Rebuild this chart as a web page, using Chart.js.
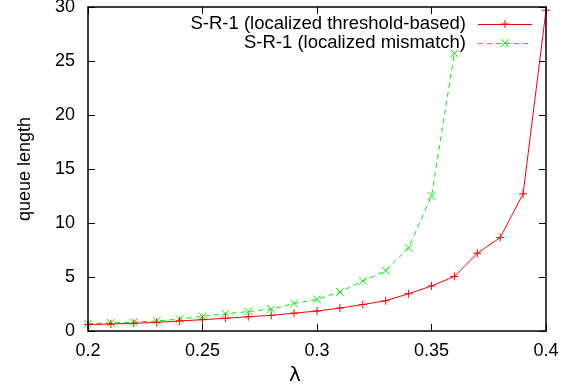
<!DOCTYPE html>
<html>
<head>
<meta charset="utf-8">
<script src="https://cdn.jsdelivr.net/npm/chart.js@4.4.0/dist/chart.umd.min.js"></script>
<style>
  html, body { margin: 0; padding: 0; background: #fff; }
  #wrap { width: 578px; height: 390px; }
</style>
</head>
<body>
<div id="wrap"><canvas id="queueChart" width="578" height="390"></canvas></div>
<script>
// arrival rates (lambda)
const lambdas = [0.2, 0.21, 0.22, 0.23, 0.24, 0.25, 0.26, 0.27, 0.28, 0.29, 0.3,
  0.31, 0.32, 0.33, 0.34, 0.35, 0.36, 0.37, 0.38, 0.39, 0.4];

// queue length
const thresholdQueue = [0.6, 0.65, 0.72, 0.8, 0.93, 1.05, 1.18, 1.32, 1.45, 1.65, 1.85,
  2.12, 2.45, 2.8, 3.45, 4.17, 5.05, 7.2, 8.65, 12.7, 29.7];
const mismatchQueue = [0.68, 0.75, 0.82, 0.93, 1.1, 1.35, 1.6, 1.8, 2.02, 2.55, 2.92,
  3.62, 4.63, 5.58, 7.7, 12.5, 25.7];

const seriesNames = ['S-R-1 (localized threshold-based)', 'S-R-1 (localized mismatch)'];
const xTicks = [0.2, 0.25, 0.3, 0.35, 0.4];
const yTicks = [0, 5, 10, 15, 20, 25, 30];

const FONT = 'Liberation Sans, Arial, sans-serif';

function toPoints(ys) {
  return ys.map((y, i) => ({ x: lambdas[i], y: y }));
}

// box + inward ticks on all four sides, gnuplot style
const framePlugin = {
  id: 'frame',
  afterDatasetsDraw(chart) {
    const { ctx, chartArea: a, scales } = chart;
    const len = 7;
    ctx.save();
    ctx.strokeStyle = '#000';
    ctx.lineWidth = 1;
    ctx.beginPath();
    xTicks.forEach(v => {
      const px = Math.round(scales.x.getPixelForValue(v)) + 0.5;
      ctx.moveTo(px, a.bottom); ctx.lineTo(px, a.bottom - len);
      ctx.moveTo(px, a.top); ctx.lineTo(px, a.top + len);
    });
    yTicks.forEach(v => {
      const py = Math.round(scales.y.getPixelForValue(v)) + 0.5;
      ctx.moveTo(a.left, py); ctx.lineTo(a.left + len, py);
      ctx.moveTo(a.right, py); ctx.lineTo(a.right - len, py);
    });
    ctx.stroke();
    ctx.lineWidth = 1.5;
    ctx.strokeRect(a.left, a.top, a.right - a.left, a.bottom - a.top);

    // x axis title
    ctx.fillStyle = '#000';
    ctx.font = '20px "DejaVu Sans", sans-serif';
    ctx.textAlign = 'center';
    ctx.textBaseline = 'middle';
    ctx.fillText('\u03bb', (a.left + a.right) / 2 - 22, 376);
    ctx.restore();
  }
};

// key in the top right, text left of the sample
const keyPlugin = {
  id: 'key',
  afterDatasetsDraw(chart) {
    const { ctx } = chart;
    const rows = [24, 43];
    ctx.save();
    chart.data.datasets.forEach((ds, i) => {
      const y = rows[i];
      ctx.fillStyle = '#000';
      ctx.font = '18.5px ' + FONT;
      ctx.textAlign = 'right';
      ctx.textBaseline = 'middle';
      ctx.fillText(seriesNames[i], 466, y);
      ctx.strokeStyle = ds.borderColor;
      ctx.lineWidth = 1;
      ctx.setLineDash(ds.borderDash || []);
      ctx.beginPath();
      ctx.moveTo(478, y + 0.5);
      ctx.lineTo(532, y + 0.5);
      ctx.stroke();
      ctx.setLineDash([]);
      Chart.helpers.drawPoint(ctx, {
        pointStyle: ds.pointStyle, radius: ds.pointRadius, rotation: 0, borderWidth: 1
      }, 505, y);
    });
    ctx.restore();
  }
};

new Chart(document.getElementById('queueChart'), {
  type: 'line',
  data: {
    datasets: [
      {
        label: seriesNames[0],
        data: toPoints(thresholdQueue),
        borderColor: '#ff0000',
        backgroundColor: '#ff0000',
        borderWidth: 1,
        pointStyle: 'cross',
        pointRadius: 4,
        pointBorderWidth: 1,
        pointBorderColor: '#ff0000',
        tension: 0
      },
      {
        label: seriesNames[1],
        data: toPoints(mismatchQueue),
        borderColor: '#00ee00',
        backgroundColor: '#00ee00',
        borderWidth: 1,
        borderDash: [5, 4],
        pointStyle: 'crossRot',
        pointRadius: 5.5,
        pointBorderWidth: 1,
        pointBorderColor: '#00ee00',
        tension: 0
      }
    ]
  },
  options: {
    responsive: false,
    animation: false,
    clip: false,
    layout: { padding: { left: 0, right: 32, top: 7, bottom: 0 } },
    plugins: {
      legend: { display: false },
      tooltip: { enabled: false }
    },
    scales: {
      x: {
        type: 'linear',
        min: 0.2,
        max: 0.4,
        afterFit(scale) { scale.height = 59; },
        afterBuildTicks(scale) { scale.ticks = xTicks.map(v => ({ value: v })); },
        grid: { display: false, drawTicks: false },
        border: { display: false },
        ticks: {
          padding: 9,
          color: '#000',
          font: { family: FONT, size: 18 },
          maxRotation: 0,
          callback: v => String(v)
        }
      },
      y: {
        min: 0,
        max: 30,
        afterFit(scale) {
          scale.width = 88;
          scale.paddingTop = 0;
          scale.paddingBottom = 0;
        },
        afterBuildTicks(scale) { scale.ticks = yTicks.map(v => ({ value: v })); },
        grid: { display: false, drawTicks: false },
        border: { display: false },
        ticks: {
          padding: 13,
          color: '#000',
          font: { family: FONT, size: 18 }
        },
        title: {
          display: true,
          text: 'queue length',
          color: '#000',
          font: { family: FONT, size: 18 },
          padding: { top: 14, bottom: 0 }
        }
      }
    }
  },
  plugins: [framePlugin, keyPlugin]
});
</script>
</body>
</html>
